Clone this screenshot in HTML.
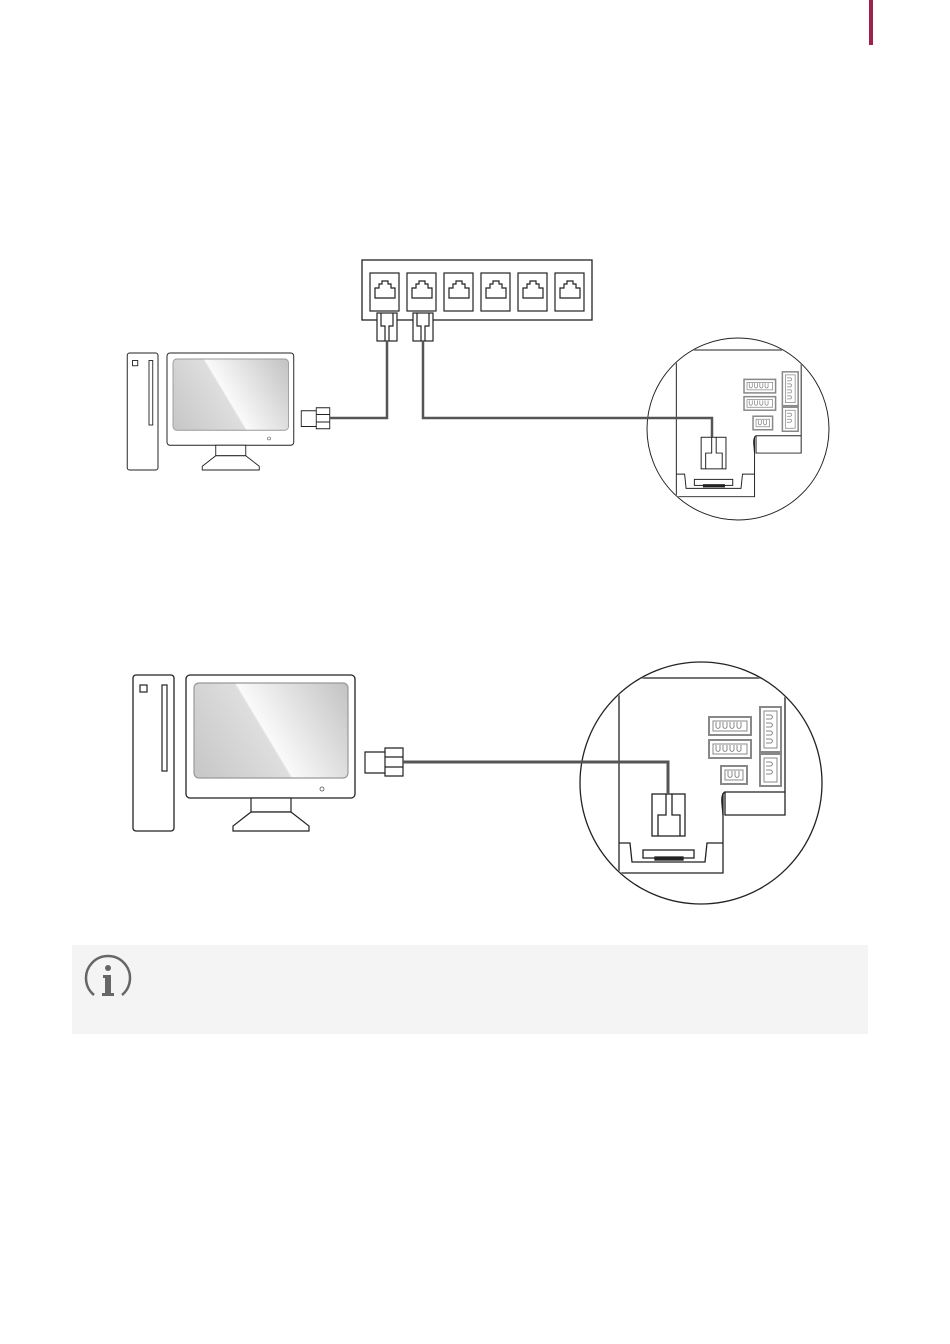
<!DOCTYPE html>
<html><head><meta charset="utf-8"><style>
html,body{margin:0;padding:0;background:#fff;}
svg{display:block;}
</style></head><body>
<svg width="950" height="1344" viewBox="0 0 950 1344" xmlns="http://www.w3.org/2000/svg">
<defs>
<linearGradient id="scr" gradientUnits="userSpaceOnUse" x1="194" y1="778" x2="349" y2="685">
<stop offset="0" stop-color="#c6c6c6"/><stop offset="0.46" stop-color="#dedede"/>
<stop offset="0.47" stop-color="#fafafa"/><stop offset="1" stop-color="#c2c2c2"/>
</linearGradient>
<clipPath id="cc"><circle cx="701" cy="783" r="120"/></clipPath>
<g id="pc">
<rect x="133" y="675" width="41" height="156" rx="3" fill="#fff" stroke="#222" stroke-width="1.3"/>
<rect x="140" y="685" width="7" height="7" fill="none" stroke="#222" stroke-width="1.2"/>
<rect x="162" y="685" width="5" height="86" fill="none" stroke="#222" stroke-width="1.2"/>
<rect x="186" y="675" width="169" height="123" rx="4" fill="#fff" stroke="#222" stroke-width="1.3"/>
<rect x="194" y="683" width="154" height="95" rx="5" fill="url(#scr)" stroke="#999" stroke-width="1.2"/>
<circle cx="322" cy="789" r="2" fill="none" stroke="#555" stroke-width="0.8"/>
<rect x="251" y="798" width="40" height="14" fill="#fff" stroke="#222" stroke-width="1.2"/>
<polygon points="251,812 291,812 309,826 309,831 233,831 233,826" fill="#fff" stroke="#222" stroke-width="1.2"/>
<path d="M385,748 h18 v28 h-18 v-3 h-20 v-21 h20 z" fill="#fff" stroke="#222" stroke-width="1.2"/>
<path d="M385,752 v21 M403,757 h-18 M403,767 h-18" fill="none" stroke="#222" stroke-width="1.2"/>
</g>
<g id="board">
<circle cx="701" cy="783" r="121" fill="#fff"/>
<g clip-path="url(#cc)" fill="none" stroke="#222" stroke-width="1.3">
<path d="M560,678 H785 V815 H725 V792 H785"/>
<path d="M619,678 V873 H723 V793"/>
<path d="M725,792 q-4,2 -3,12 l1,11" />
<path d="M619,843 H630 L632,862 H705 L707,843 H723"/>
<rect x="643" y="850" width="51" height="8"/>
<rect x="655" y="857" width="28" height="3" fill="#222"/>
<rect x="652" y="794" width="33" height="42" fill="#fff"/>
<path d="M666,794 V815 H658 V836 M680,836 V815 H672 V794"/>
</g>
<g fill="#fff" stroke="#888" stroke-width="2">
<rect x="709" y="717" width="42" height="18"/>
<rect x="709" y="740" width="42" height="18"/>
<rect x="721" y="766" width="26" height="18"/>
<rect x="760" y="707" width="21" height="45"/>
<rect x="760" y="754" width="21" height="32"/>
</g>
<g fill="none" stroke="#888" stroke-width="1">
<path d="M713,721 h34 v10 h-34 z M713,744 h34 v10 h-34 z M725,770 h18 v10 h-18 z M764,711 h13 v37 h-13 z M764,758 h13 v24 h-13 z"/>
<path d="M716,722 v5 q2,3 4,0 v-5 M723,722 v5 q2,3 4,0 v-5 M730,722 v5 q2,3 4,0 v-5 M737,722 v5 q2,3 4,0 v-5"/>
<path d="M716,745 v5 q2,3 4,0 v-5 M723,745 v5 q2,3 4,0 v-5 M730,745 v5 q2,3 4,0 v-5 M737,745 v5 q2,3 4,0 v-5"/>
<path d="M728,771 v5 q2,3 4,0 v-5 M735,771 v5 q2,3 4,0 v-5"/>
<path d="M766,715 h5 q3,2 0,4 h-5 M766,723 h5 q3,2 0,4 h-5 M766,731 h5 q3,2 0,4 h-5 M766,739 h5 q3,2 0,4 h-5"/>
<path d="M766,762 h5 q3,2 0,4 h-5 M766,770 h5 q3,2 0,4 h-5"/>
</g>
<circle cx="701" cy="783" r="121" fill="none" stroke="#222" stroke-width="1.3"/>
</g>
</defs>
<rect x="869" y="0" width="4" height="45" fill="#a0224a"/>

<!-- diagram 1 -->
<use href="#pc" transform="translate(27.5,-153.25) scale(0.75)"/>
<use href="#board" transform="translate(738,429) scale(0.752) translate(-701,-783)"/>
<rect x="362" y="260" width="230" height="60" fill="#fff" stroke="#222" stroke-width="1.3"/>
<g fill="none" stroke="#222" stroke-width="1.2">
<rect x="370" y="273" width="29" height="38"/><rect x="407" y="273" width="29" height="38"/>
<rect x="444" y="273" width="29" height="38"/><rect x="481" y="273" width="29" height="38"/>
<rect x="518" y="273" width="29" height="38"/><rect x="555" y="273" width="29" height="38"/>
<path d="M375,298 v-10 h4 v-4 h3 v-3 h6 v3 h3 v4 h4 v10 z"/>
<path d="M412,298 v-10 h4 v-4 h3 v-3 h6 v3 h3 v4 h4 v10 z"/>
<path d="M449,298 v-10 h4 v-4 h3 v-3 h6 v3 h3 v4 h4 v10 z"/>
<path d="M486,298 v-10 h4 v-4 h3 v-3 h6 v3 h3 v4 h4 v10 z"/>
<path d="M523,298 v-10 h4 v-4 h3 v-3 h6 v3 h3 v4 h4 v10 z"/>
<path d="M560,298 v-10 h4 v-4 h3 v-3 h6 v3 h3 v4 h4 v10 z"/>
</g>
<g fill="#fff" stroke="#222" stroke-width="1.2">
<rect x="377" y="313" width="20" height="28"/>
<path d="M381,313 v13 h4 v15 M393,313 v13 h-4 v15" fill="none"/>
<rect x="413" y="313" width="20" height="28"/>
<path d="M417,313 v13 h4 v15 M429,313 v13 h-4 v15" fill="none"/>
</g>
<g fill="none" stroke="#555" stroke-width="2.5">
<path d="M330,418 H387 V341"/>
<path d="M423,341 V418 H712 V437"/>
</g>

<!-- diagram 2 -->
<use href="#pc"/>
<use href="#board"/>
<path d="M403,762 H668 V794" fill="none" stroke="#555" stroke-width="3"/>

<!-- info box -->
<rect x="72" y="945" width="796" height="89" fill="#f4f4f4"/>
<path d="M94,995 A22,22 0 1 1 122,995" fill="none" stroke="#666" stroke-width="2.5"/>
<circle cx="108" cy="968" r="3" fill="#666"/>
<path d="M103,975 h8 v18 h3 v3 h-12 v-3 h3 v-15 h-2 z" fill="#666"/>
</svg>
</body></html>
